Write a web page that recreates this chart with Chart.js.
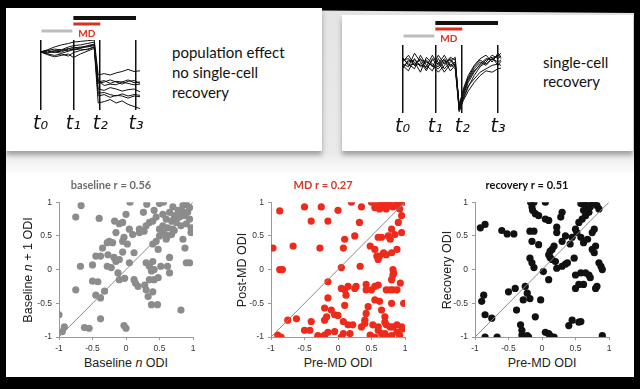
<!DOCTYPE html>
<html>
<head>
<meta charset="utf-8">
<script src="https://cdn.jsdelivr.net/npm/chart.js@4.4.1/dist/chart.umd.min.js"></script>
<style>
  html, body { margin: 0; padding: 0; }
  body { width: 640px; height: 389px; background: #000; position: relative; overflow: hidden; font-family: 'Liberation Sans', Arial, sans-serif; }
  #slide { position: absolute; left: 6px; top: 8px; width: 628px; height: 369px;
    background: linear-gradient(to bottom, #e4e4e4 0px, #eaeaea 145px, #f6f6f6 158px, #fff 168px);
    clip-path: polygon(0 0, 100% 5px, 100% 100%, 0 100%); }
  .card { position: absolute; background: #fff; box-shadow: 0 4px 5px rgba(0,0,0,0.32); }
  #cardL { left: 6px; top: 8px; width: 316px; height: 143px; }
  #cardR { left: 342px; top: 15px; width: 291px; height: 136px; }
  .note { position: absolute; font-family: Lato, sans-serif; font-size: 15px; color: #111; }
  canvas { position: absolute; }
  .xt { position: absolute; width: 200px; text-align: center; font-size: 12.5px; line-height: 16px; color: #222; top: 355px; }
  .yt { position: absolute; width: 160px; height: 16px; text-align: center; font-size: 12.5px; line-height: 16px; color: #222; top: 262px; transform: rotate(-90deg); }
</style>
</head>
<body>
<div id="slide"></div>
<div class="card" id="cardL"></div>
<div class="card" id="cardR"></div>

<div class="note" style="left:172px; top:42px; line-height:20px;">population effect<br>no single-cell<br>recovery</div>
<div class="note" style="left:543px; top:53px; line-height:19px;">single-cell<br>recovery</div>

<canvas id="schemL" width="124" height="130" style="left:30px; top:8px;"></canvas>
<canvas id="schemR" width="124" height="128" style="left:392px; top:13px;"></canvas>

<canvas id="sc1" width="194" height="180" style="left:29px; top:173px;"></canvas>
<canvas id="sc2" width="194" height="180" style="left:241px; top:173px;"></canvas>
<canvas id="sc3" width="194" height="180" style="left:445px; top:173px;"></canvas>

<div class="xt" style="left:26px;">Baseline <i>n</i> ODI</div>
<div class="xt" style="left:238px;">Pre-MD ODI</div>
<div class="xt" style="left:442px;">Pre-MD ODI</div>
<div class="yt" style="left:-52px;">Baseline <i>n</i> + 1 ODI</div>
<div class="yt" style="left:162px;">Post-MD ODI</div>
<div class="yt" style="left:367px;">Recovery ODI</div>

<script>
// Time points of the schematic traces
const tTimes = [0, 33, 60, 96];
const tLabels = ['t\u2080', 't\u2081', 't\u2082', 't\u2083'];
const periodNames = ['baseline', 'MD', 'recovery'];
const periodStart = [0, 1, 1];
const periodEnd = [1, 2, 3];

// Left schematic: population effect, no recovery
const popT = [0, 7, 14, 21, 28, 33, 40, 47, 54, 58, 64, 70, 76, 82, 88, 94, 100];
const popTraces = [
  [0.83, 0.85, 0.87, 0.86, 0.90, 0.92, 0.93, 0.95, 0.97, 0.40, 0.42, 0.38, 0.41, 0.40, 0.43, 0.39, 0.40],
  [0.83, 0.81, 0.84, 0.86, 0.85, 0.88, 0.90, 0.91, 0.93, 0.38, 0.40, 0.43, 0.40, 0.37, 0.41, 0.42, 0.38],
  [0.83, 0.80, 0.78, 0.80, 0.77, 0.82, 0.85, 0.87, 0.90, 0.20, 0.22, 0.18, 0.21, 0.20, 0.17, 0.20, 0.19],
  [0.83, 0.86, 0.90, 0.93, 0.95, 0.97, 0.98, 0.99, 1.00, 0.50, 0.52, 0.50, 0.53, 0.55, 0.58, 0.55, 0.56],
  [0.83, 0.79, 0.76, 0.78, 0.80, 0.75, 0.80, 0.84, 0.88, 0.10, 0.12, 0.15, 0.10, 0.13, 0.08, 0.05, 0.02],
  [0.83, 0.84, 0.82, 0.85, 0.88, 0.86, 0.89, 0.90, 0.92, 0.30, 0.28, 0.32, 0.30, 0.27, 0.29, 0.30, 0.26],
  [0.83, 0.82, 0.85, 0.83, 0.87, 0.90, 0.88, 0.92, 0.94, 0.24, 0.25, 0.22, 0.20, 0.23, 0.20, 0.22, 0.21],
  [0.83, 0.85, 0.83, 0.81, 0.84, 0.86, 0.87, 0.86, 0.90, 0.42, 0.35, 0.37, 0.36, 0.40, 0.38, 0.36, 0.37]
];

// Right schematic: single-cell recovery
const recT = [0, 6, 12, 18, 24, 30, 36, 42, 48, 53, 57, 61, 66, 72, 78, 84, 90, 96, 99];
const recTraces = [
  [0.75, 0.85, 0.70, 0.80, 0.65, 0.78, 0.72, 0.85, 0.70, 0.75, 0.05, 0.25, 0.45, 0.60, 0.72, 0.80, 0.78, 0.85, 0.80],
  [0.70, 0.62, 0.80, 0.68, 0.75, 0.70, 0.60, 0.70, 0.80, 0.70, 0.08, 0.30, 0.50, 0.65, 0.75, 0.70, 0.80, 0.75, 0.78],
  [0.80, 0.72, 0.65, 0.85, 0.70, 0.62, 0.80, 0.65, 0.75, 0.82, 0.02, 0.20, 0.38, 0.55, 0.68, 0.75, 0.85, 0.80, 0.84],
  [0.65, 0.78, 0.75, 0.60, 0.82, 0.72, 0.68, 0.78, 0.62, 0.70, 0.10, 0.35, 0.55, 0.70, 0.80, 0.85, 0.75, 0.88, 0.82],
  [0.72, 0.68, 0.88, 0.75, 0.62, 0.80, 0.75, 0.60, 0.72, 0.65, 0.04, 0.22, 0.40, 0.50, 0.60, 0.65, 0.70, 0.72, 0.70],
  [0.78, 0.80, 0.70, 0.72, 0.78, 0.68, 0.85, 0.72, 0.82, 0.78, 0.06, 0.28, 0.48, 0.62, 0.70, 0.78, 0.82, 0.70, 0.76],
  [0.68, 0.75, 0.78, 0.70, 0.68, 0.85, 0.70, 0.80, 0.68, 0.72, 0.12, 0.32, 0.52, 0.68, 0.78, 0.72, 0.80, 0.84, 0.88],
  [0.82, 0.70, 0.72, 0.78, 0.75, 0.70, 0.65, 0.75, 0.78, 0.68, 0.03, 0.18, 0.32, 0.45, 0.55, 0.62, 0.60, 0.65, 0.66]
];

// Scatter plots: [x, y] ODI pairs
const diagX = [-1, 1];
const diagY = [-1, 1];

const baselinePts = [
  [-0.67,0.95],[0.06,1.0],[0.31,0.97],[0.5,0.98],[0.56,1.0],[0.7,0.93],[0.85,0.95],[0.9,0.97],[0.95,0.92],
  [-0.75,0.78],[-0.4,0.76],[0.0,0.82],[0.26,0.85],[0.42,0.88],[0.45,0.78],[0.55,0.82],[0.6,0.75],[0.65,0.85],
  [0.72,0.8],[0.78,0.88],[0.8,0.78],[0.85,0.85],[0.88,0.8],[0.92,0.85],[0.95,0.75],[0.75,0.7],[0.68,0.72],
  [-0.17,0.72],[-0.1,0.68],[-0.05,0.7],[0.2,0.6],[0.3,0.65],[0.35,0.7],[0.4,0.72],[0.5,0.6],[0.55,0.65],
  [0.62,0.62],[0.7,0.6],[0.82,0.65],[0.9,0.68],[0.97,0.62],
  [-0.15,0.55],[0.05,0.6],[-0.03,0.48],[0.1,0.52],[0.2,0.55],[0.27,0.57],[0.5,0.5],[0.55,0.55],[0.58,0.52],
  [0.62,0.5],[0.68,0.52],[0.72,0.58],[0.85,0.45],[0.97,0.55],[0.6,0.45],
  [-0.25,0.42],[-0.2,0.4],[-0.28,0.4],[-0.05,0.42],[0.02,0.38],[0.4,0.38],[0.45,0.42],[0.88,0.32],[-0.35,0.32],
  [-0.45,0.2],[-0.38,0.2],[-0.27,0.22],[-0.18,0.18],[-0.05,0.26],[0.12,0.25],[0.48,0.3],[0.65,0.18],[0.9,0.1],
  [0.95,0.1],[-0.15,0.12],[-0.1,0.15],[0.05,0.1],[0.3,0.1],[0.4,0.12],
  [-0.68,0.05],[-0.5,0.07],[-0.22,0.03],[-0.12,-0.05],[0.35,0.05],[0.38,-0.02],[0.52,0.05],[0.62,0.05],
  [0.65,-0.05],[0.42,0.0],[-0.28,0.05],
  [-0.5,-0.17],[-0.42,-0.18],[-0.1,-0.15],[-0.02,-0.13],[0.12,-0.15],[0.14,-0.2],[0.18,-0.25],[0.28,-0.23],
  [0.35,-0.15],[0.42,-0.15],[0.48,-0.12],[0.3,-0.3],[-0.75,-0.3],[-0.32,-0.32],
  [-0.45,-0.38],[-0.38,-0.42],[0.33,-0.4],[0.38,-0.52],[0.47,-0.52],[0.4,-0.33],[0.82,-0.6],
  [-1.0,-0.67],[-0.92,-0.85],[-0.95,-0.92],[-0.62,-0.86],[-0.55,-0.87],[-0.38,-0.73],[-0.03,-0.83],[0.0,-0.87]
];

const mdPts = [
  [0.2,1.0],[0.5,1.0],[0.6,1.0],[0.65,0.98],[0.7,1.0],[0.75,1.0],[0.85,1.0],[0.9,1.0],[0.95,1.0],[1.0,1.0],
  [0.62,0.9],[0.68,0.92],[0.72,0.9],[0.78,0.95],[0.82,0.93],[0.88,0.97],[0.92,0.9],[0.55,0.92],[0.35,0.93],
  [0.0,0.88],[-0.25,0.93],[-0.5,0.93],[-0.87,0.87],
  [-0.4,0.72],[-0.15,0.72],[0.32,0.7],[0.95,0.8],[0.9,0.7],[0.8,0.6],[0.75,0.5],[0.65,0.48],[0.6,0.48],
  [0.78,0.45],[0.85,0.52],[0.95,0.55],[0.25,0.5],[0.1,0.45],[-0.97,0.32],[-0.67,0.35],[-0.27,0.32],[0.08,0.32],
  [0.48,0.35],[0.55,0.3],[0.58,0.2],[0.62,0.2],[0.68,0.25],[0.72,0.22],[0.8,0.25],[0.88,0.3],[0.6,0.15],
  [-0.87,0.0],[-0.83,0.0],[0.05,0.03],[0.33,0.05],[0.82,0.0],[0.83,-0.05],
  [-0.15,-0.18],[0.05,-0.28],[0.1,-0.3],[0.15,-0.25],[0.25,-0.28],[0.27,-0.25],[0.42,-0.22],[0.5,-0.3],
  [0.55,-0.25],[0.6,-0.23],[0.72,-0.3],[0.78,-0.3],[0.82,-0.3],[0.88,-0.3],[0.93,-0.2],[0.8,-0.15],[0.82,-0.08],
  [0.12,-0.38],[0.42,-0.3],
  [-0.15,-0.42],[0.1,-0.53],[0.45,-0.55],[0.55,-0.45],[0.62,-0.47],[0.8,-0.5],[0.98,-0.5],[-0.2,-0.57],
  [-0.1,-0.6],[0.65,-0.6],[0.42,-0.65],
  [-0.75,-0.75],[-0.62,-0.73],[-0.4,-0.77],[-0.2,-0.75],[-0.17,-0.7],[-0.05,-0.67],[0.0,-0.68],[0.08,-0.77],
  [0.15,-0.82],[0.22,-0.82],[0.4,-0.75],[0.4,-0.8],[0.7,-0.7],[0.7,-0.78],[0.72,-0.82],[0.78,-0.85],
  [0.82,-0.85],[0.88,-0.82],[0.95,-0.85],[0.6,-0.85],[0.52,-0.82],
  [-0.9,-0.97],[-0.85,-1.0],[-0.5,-0.9],[-0.42,-0.9],[-0.3,-1.0],[-0.25,-1.0],[-0.2,-0.97],[-0.15,-0.93],
  [-0.05,-0.92],[0.05,-1.0],[0.08,-0.95],[0.18,-0.95],[0.48,-0.97],[0.5,-1.0],[0.55,-1.0],[0.6,-0.9],
  [0.65,-0.95],[0.7,-0.95],[0.75,-1.0],[0.8,-0.98],[0.88,-0.93],[0.92,-0.97],[0.97,-0.88],[0.35,-0.85],[-0.3,-0.98]
];

const recoveryPts = [
  [-0.17,1.0],[-0.12,1.0],[0.05,1.0],[-0.15,0.93],[-0.14,0.88],[-0.1,0.83],[-0.05,0.8],[0.05,0.75],[0.1,0.73],
  [0.3,0.85],[0.28,0.78],[0.58,0.98],[0.62,1.0],[0.65,0.95],[0.68,0.92],[0.7,1.0],[0.72,0.93],[0.75,0.98],
  [0.78,1.0],[0.82,0.95],[0.85,0.9],[0.62,0.88],[0.65,0.8],[0.6,0.75],[0.55,0.7],[0.7,0.85],
  [-0.92,0.62],[-0.85,0.67],[-0.6,0.58],[-0.52,0.53],[-0.42,0.53],[-0.18,0.57],[-0.12,0.57],[-0.15,0.42],
  [-0.05,0.37],[0.22,0.55],[0.22,0.63],[0.5,0.6],[0.52,0.55],[0.58,0.48],[0.62,0.4],[0.68,0.45],[0.75,0.55],
  [0.78,0.6],[0.45,0.48],[0.42,0.38],[0.35,0.5],[0.3,0.42],
  [-0.18,0.17],[-0.15,0.1],[-0.12,0.03],[0.12,0.27],[0.15,0.3],[0.18,0.35],[0.12,0.18],[0.1,0.22],[0.15,0.15],
  [0.2,0.12],[0.22,0.02],[0.3,0.05],[0.35,0.08],[0.38,0.1],[0.48,0.17],[0.5,-0.08],[0.58,-0.05],[0.65,-0.05],
  [0.7,-0.08],[0.72,-0.12],[0.75,0.3],[0.78,0.25],[0.8,0.35],[0.85,0.1],[0.88,0.05],[0.9,0.0],[0.02,-0.03],[0.1,-0.15],
  [-0.75,-0.72],[-0.85,-0.67],[-0.9,-0.47],[-0.87,-0.38],[-0.4,-0.28],[-0.5,-0.33],[-0.25,-0.25],[-0.22,-0.35],
  [-0.18,-0.43],[-0.28,-0.45],[-0.38,-0.6],[-0.1,-0.7],[-0.02,-0.45],[0.5,-0.28],[0.55,-0.22],[0.62,-0.22],
  [0.8,-0.28],[0.82,-0.25],[0.4,-0.83],[0.45,-0.75],[0.55,-0.78],[0.58,-0.77],
  [-0.85,-1.0],[-0.67,-1.0],[-0.32,-0.82],[-0.3,-0.9],[-0.3,-0.97],[-0.22,-0.98],[-0.2,-1.0],[0.05,-0.93],
  [0.1,-0.95],[0.12,-0.98],[0.18,-1.0],[0.9,-0.98]
];

// Period bars above the schematic (baseline / MD / recovery)
const periodBars = {
  id: 'periodBars',
  afterDraw(chart) {
    const ctx = chart.ctx;
    const x = chart.scales.x;
    const top = chart.chartArea.top;
    const styles = [
      { color: '#bdbdbd', dy: -9, h: 3 },
      { color: '#d8321e', dy: -16, h: 3 },
      { color: '#111111', dy: -22, h: 4 }
    ];
    ctx.save();
    periodNames.forEach(function(name, i) {
      const x0 = x.getPixelForValue(tTimes[periodStart[i]]);
      const x1 = x.getPixelForValue(tTimes[periodEnd[i]]);
      const s = styles[i];
      ctx.fillStyle = s.color;
      if (i === 0) {
        ctx.fillRect(x0 + 1, top + s.dy - s.h / 2, x1 - x0 - 2, s.h);
      } else {
        ctx.fillRect(x0, top + s.dy - s.h / 2, x1 - x0, s.h);
      }
    });
    // MD label under the red bar
    const m0 = x.getPixelForValue(tTimes[periodStart[1]]);
    const m1 = x.getPixelForValue(tTimes[periodEnd[1]]);
    ctx.fillStyle = '#d8321e';
    ctx.font = 'bold 10px Lato, sans-serif';
    ctx.textAlign = 'center';
    ctx.textBaseline = 'middle';
    ctx.fillText(periodNames[1], (m0 + m1) / 2, top - 6);
    ctx.restore();
  }
};

function makeSchematic(id, times, traces) {
  return new Chart(document.getElementById(id), {
    type: 'line',
    data: {
      datasets: traces.map(function(tr) {
        return {
          data: times.map(function(t, i) { return { x: t, y: tr[i] }; }),
          borderColor: '#111',
          borderWidth: 1,
          pointRadius: 0,
          tension: 0
        };
      })
    },
    options: {
      responsive: false,
      animation: false,
      events: [],
      layout: { padding: { left: 10, right: 14, top: 32, bottom: 0 } },
      plugins: { legend: { display: false }, tooltip: { enabled: false } },
      scales: {
        x: {
          type: 'linear', min: 0, max: 100,
          afterBuildTicks: function(s) { s.ticks = tTimes.map(function(v) { return { value: v }; }); },
          afterFit: function(s) { s.height = 28; },
          ticks: {
            autoSkip: false, maxRotation: 0, padding: 3, color: '#111',
            font: { family: 'DejaVu Sans', style: 'italic', size: 19 },
            callback: function(v, i) { return tLabels[i]; }
          },
          grid: { color: '#111', lineWidth: 1.5, drawTicks: false },
          border: { display: false }
        },
        y: { display: false, min: 0, max: 1 }
      }
    },
    plugins: [periodBars]
  });
}

function fmtTick(v) {
  return v === 0 ? '0' : String(Math.round(v * 10) / 10);
}

function axisOpts(horizontal) {
  return {
    type: 'linear', min: -1, max: 1,
    afterFit: function(s) { if (horizontal) { s.height = 16; } else { s.width = 30; } },
    ticks: {
      stepSize: 0.5, padding: 4, color: '#333',
      font: { family: 'Liberation Sans', size: 8.5 },
      callback: fmtTick
    },
    grid: { display: true, drawOnChartArea: false, drawTicks: true, tickLength: 3, color: '#999' },
    border: { color: '#999' }
  };
}

function makeScatter(id, title, titleColor, pts, color) {
  return new Chart(document.getElementById(id), {
    type: 'scatter',
    data: {
      datasets: [
        {
          type: 'line',
          data: diagX.map(function(x, i) { return { x: x, y: diagY[i] }; }),
          borderColor: '#8a8a8a', borderWidth: 1, pointRadius: 0, order: 0
        },
        {
          data: pts.map(function(p) { return { x: p[0], y: p[1] }; }),
          backgroundColor: color, borderWidth: 0, pointRadius: 3.6, order: 1
        }
      ]
    },
    options: {
      responsive: false,
      animation: false,
      events: [],
      layout: { padding: { top: 4, right: 30, left: 0, bottom: 0 } },
      plugins: {
        legend: { display: false },
        tooltip: { enabled: false },
        title: {
          display: true, text: title, color: titleColor,
          font: { family: 'Lato', weight: 'bold', size: 11 },
          padding: { top: 2, bottom: 10 }
        }
      },
      scales: { x: axisOpts(true), y: axisOpts(false) }
    }
  });
}

makeSchematic('schemL', popT, popTraces);
makeSchematic('schemR', recT, recTraces);
makeScatter('sc1', 'baseline r = 0.56', '#6e6e6e', baselinePts, '#8c8c8c');
makeScatter('sc2', 'MD r = 0.27', '#d5392a', mdPts, '#ee2a1b');
makeScatter('sc3', 'recovery r = 0.51', '#111', recoveryPts, '#111');
</script>
</body>
</html>
